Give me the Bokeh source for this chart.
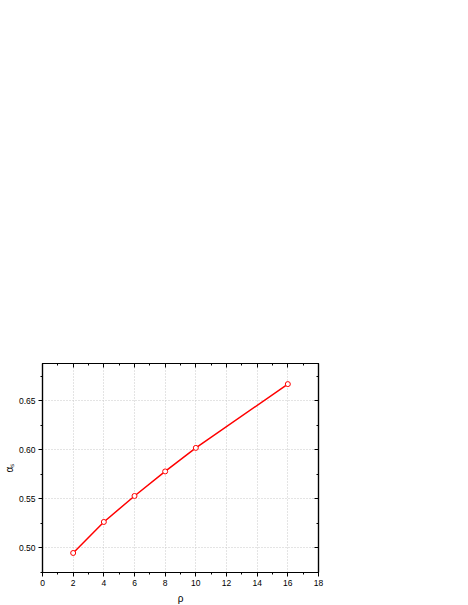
from bokeh.plotting import figure
from bokeh.models import (Range1d, LinearAxis, SingleIntervalTicker,
                          NumeralTickFormatter, CustomLabelingPolicy)
from bokeh.embed import file_html
from bokeh.resources import INLINE

rho = [2, 4, 6, 8, 10, 16]
alpha_s = [0.4949, 0.5265, 0.553, 0.578, 0.602, 0.667]
x_label = "ρ"
y_label = "αₛ"

FONT = "Liberation Sans"

p = figure(width=460, height=605, output_backend="svg", toolbar_location=None,
           x_range=Range1d(0, 18), y_range=Range1d(0.475, 0.688),
           frame_width=276, frame_height=209,
           min_border_left=42, min_border_right=142, min_border_top=363, min_border_bottom=33)
p.background_fill_color = "white"
p.border_fill_color = "white"
p.outline_line_color = "black"
p.outline_line_width = 1.2

p.xaxis.ticker = SingleIntervalTicker(interval=2, num_minor_ticks=2)
p.yaxis.ticker = SingleIntervalTicker(interval=0.05, num_minor_ticks=2)
p.yaxis.formatter = NumeralTickFormatter(format="0.00")
p.xaxis.axis_label = x_label
p.yaxis.axis_label = y_label

for ax in (p.xaxis[0], p.yaxis[0]):
    ax.axis_line_width = 1.2
    ax.major_tick_out = 4
    ax.major_tick_in = 0
    ax.minor_tick_out = 2
    ax.minor_tick_in = 0
    ax.major_label_text_font = FONT
    ax.major_label_text_font_size = "8.5px"
    ax.major_label_text_color = "black"
    ax.major_label_standoff = 3
    ax.axis_label_text_font = FONT
    ax.axis_label_text_font_size = "10px"
    ax.axis_label_text_font_style = "normal"
    ax.axis_label_text_color = "black"
p.xaxis.axis_label_standoff = 4
p.yaxis.axis_label_standoff = 1

top = LinearAxis(ticker=SingleIntervalTicker(interval=2, num_minor_ticks=2),
                 major_label_policy=CustomLabelingPolicy(code="return new Set()"),
                 major_tick_in=4, major_tick_out=0,
                 minor_tick_in=2, minor_tick_out=0, axis_line_width=1.2)
right = LinearAxis(ticker=SingleIntervalTicker(interval=0.05, num_minor_ticks=2),
                   major_label_policy=CustomLabelingPolicy(code="return new Set()"),
                   major_tick_in=4, major_tick_out=0,
                   minor_tick_in=2, minor_tick_out=0, axis_line_width=1.2)
p.add_layout(top, "above")
p.add_layout(right, "right")

for g in (p.xgrid[0], p.ygrid[0]):
    g.grid_line_color = "#c8c8c8"
    g.grid_line_dash = "1 2"
    g.grid_line_width = 1

p.line(rho, alpha_s, line_color="red", line_width=1.5)
p.scatter(rho, alpha_s, marker="circle", size=5, fill_color="white",
          line_color="red", line_width=1)

open("out.html", "w").write(file_html(p, INLINE))
